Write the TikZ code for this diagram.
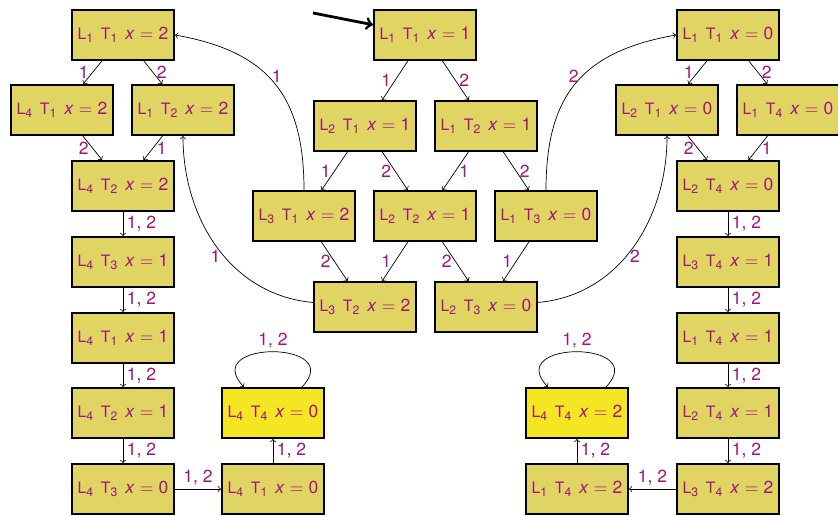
\documentclass[tikz,border=0pt]{standalone}
\usepackage{fontspec}
\setmainfont{TeX Gyre Heros}

\definecolor{statefill}{RGB}{224,212,98}
\definecolor{goalfill}{RGB}{245,230,35}
\definecolor{labelcol}{RGB}{160,20,128}

% location / turn / value of x
\newcommand{\lts}[3]{{\fontsize{9}{10}\selectfont L}\textsubscript{#1}\hspace{0.4em}{\fontsize{9}{10}\selectfont T}\textsubscript{#2}\hspace{0.4em}\textit{x}\hspace{0.3em}$=$\hspace{0.3em}#3}

\tikzset{
    box/.style={draw, line width=1pt, fill=statefill, minimum width=58.4pt,
        minimum height=28.7pt, inner sep=0pt, text=labelcol},
    goal/.style={box, fill=goalfill},
    lbl/.style={text=labelcol, inner sep=2pt},
    trans/.style={->, line width=0.4pt}
}

\begin{document}
\begin{tikzpicture}[x=0.5714pt, y=0.5714pt]
    \useasboundingbox (0,0) rectangle (838,515);

    % States
    \foreach \n/\s/\x/\y/\l/\t/\v in {
        s112/box/123/480/1/1/2,  s412/box/62/405/4/1/2,   s122/box/183/405/1/2/2,
        s422/box/123/329/4/2/2,  s431/box/123/253/4/3/1,  s411/box/123/177/4/1/1,
        s421/box/123/102/4/2/1,  s430/box/123/26/4/3/0,   s410/box/273/26/4/1/0,
        s440/goal/273/102/4/4/0,
        s111/box/425/480/1/1/1,  s211/box/365/389/2/1/1,  s121/box/486/389/1/2/1,
        s312/box/304/299/3/1/2,  s221/box/425/299/2/2/1,  s130/box/546/299/1/3/0,
        s322/box/365/208/3/2/2,  s230/box/486/208/2/3/0,
        s110/box/728/480/1/1/0,  s210/box/667/405/2/1/0,  s140/box/788/405/1/4/0,
        s240/box/728/329/2/4/0,  s341/box/728/253/3/4/1,  s141/box/728/177/1/4/1,
        s241/box/728/102/2/4/1,  s342/box/728/26/3/4/2,   s142/box/577/26/1/4/2,
        s442/goal/577/102/4/4/2} {
        \node[\s] (\n) at (\x,\y) {\lts{\l}{\t}{\v}};
    }

    % Initial state
    \coordinate (init) at (313,502);
    \draw[->, line width=1.6pt] (init) -- (s111);

    % Transitions
    \foreach \a/\b/\lab/\side in {
        s112/s412/1/left,   s112/s122/2/right,  s412/s422/2/left,   s122/s422/1/right,
        s422/s431/{1, 2}/right, s431/s411/{1, 2}/right, s411/s421/{1, 2}/right,
        s421/s430/{1, 2}/right, s430/s410/{1, 2}/above, s410/s440/{1, 2}/right,
        s111/s211/1/left,   s111/s121/2/right,  s211/s312/1/left,   s211/s221/2/left,
        s121/s221/1/right,  s121/s130/2/right,  s312/s322/2/left,   s221/s322/1/left,
        s221/s230/2/left,   s130/s230/1/left,
        s110/s210/1/left,   s110/s140/2/right,  s210/s240/2/left,   s140/s240/1/right,
        s240/s341/{1, 2}/right, s341/s141/{1, 2}/right, s141/s241/{1, 2}/right,
        s241/s342/{1, 2}/right, s342/s142/{1, 2}/above, s142/s442/{1, 2}/right} {
        \draw[trans] (\a) -- node[lbl, \side] {\lab} (\b);
    }

    % Back edges
    \draw[trans] (s312) to[out=90, in=-10, looseness=1.2] node[lbl, pos=0.55, right] {1} (s112.east);
    \draw[trans] (s322) to[out=175, in=-90] node[lbl, pos=0.45, left] {1} (s122.south);
    \draw[trans] (s130) to[out=90, in=190, looseness=1.2] node[lbl, pos=0.55, left] {2} (s110.west);
    \draw[trans] (s230) to[out=5, in=-90] node[lbl, pos=0.45, right] {2} (s210.south);

    % Self loops
    \draw[trans] ([shift={(29,0)}]s440.north) .. controls +(45,47) and +(-45,47) ..
        node[lbl, pos=0.5, above] {1, 2} ([shift={(-29,0)}]s440.north);
    \draw[trans] ([shift={(29,0)}]s442.north) .. controls +(45,47) and +(-45,47) ..
        node[lbl, pos=0.5, above] {1, 2} ([shift={(-29,0)}]s442.north);
\end{tikzpicture}
\end{document}
